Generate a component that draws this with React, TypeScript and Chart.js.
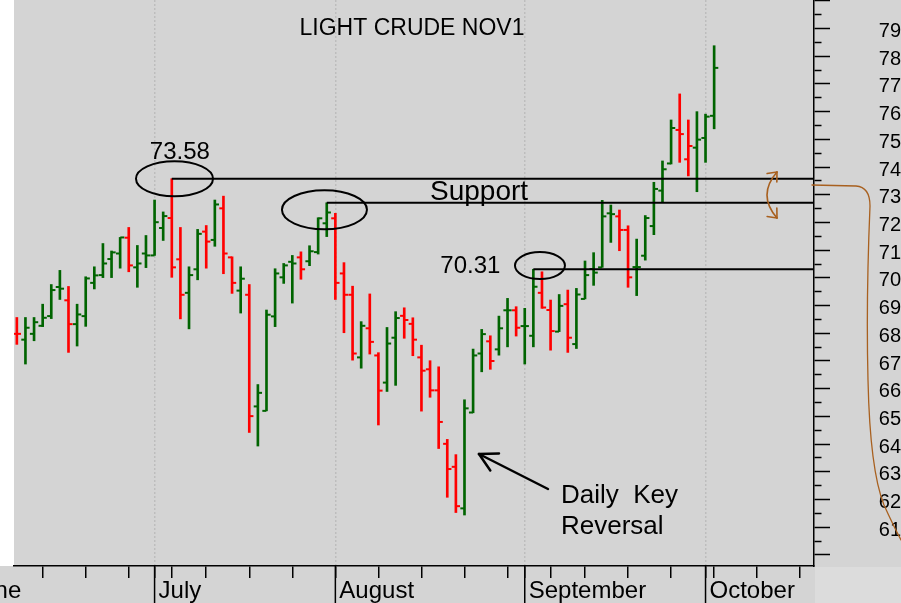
import { useEffect, useRef } from 'react';
import { Chart, registerables } from 'chart.js';

Chart.register(...registerables);

// Sessions before the first bar, only used to place the June month marker
const leadingSessions = ['2021-06-01', '2021-06-02', '2021-06-03', '2021-06-04', '2021-06-07', '2021-06-08'];

// Trading sessions drawn as bars
const sessions = [
  '2021-06-09', '2021-06-10', '2021-06-11', '2021-06-14', '2021-06-15', '2021-06-16', '2021-06-17', '2021-06-18',
  '2021-06-21', '2021-06-22', '2021-06-23', '2021-06-24', '2021-06-25', '2021-06-28', '2021-06-29', '2021-06-30',
  '2021-07-01', '2021-07-02', '2021-07-06', '2021-07-07', '2021-07-08', '2021-07-09',
  '2021-07-12', '2021-07-13', '2021-07-14', '2021-07-15', '2021-07-16',
  '2021-07-19', '2021-07-20', '2021-07-21', '2021-07-22', '2021-07-23',
  '2021-07-26', '2021-07-27', '2021-07-28', '2021-07-29', '2021-07-30',
  '2021-08-02', '2021-08-03', '2021-08-04', '2021-08-05', '2021-08-06',
  '2021-08-09', '2021-08-10', '2021-08-11', '2021-08-12', '2021-08-13',
  '2021-08-16', '2021-08-17', '2021-08-18', '2021-08-19', '2021-08-20',
  '2021-08-23', '2021-08-24', '2021-08-25', '2021-08-26', '2021-08-27',
  '2021-08-30', '2021-08-31',
  '2021-09-01', '2021-09-02', '2021-09-03', '2021-09-07', '2021-09-08', '2021-09-09', '2021-09-10',
  '2021-09-13', '2021-09-14', '2021-09-15', '2021-09-16', '2021-09-17',
  '2021-09-20', '2021-09-21', '2021-09-22', '2021-09-23', '2021-09-24',
  '2021-09-27', '2021-09-28', '2021-09-29', '2021-09-30',
  '2021-10-01', '2021-10-04',
];

// Upcoming sessions that extend the time axis to the right
const trailingSessions = [
  '2021-10-05', '2021-10-06', '2021-10-07', '2021-10-08',
  '2021-10-11', '2021-10-12', '2021-10-13', '2021-10-14', '2021-10-15',
  '2021-10-18', '2021-10-19', '2021-10-20',
];

const openPrices = [
  67.98, 67.77, 67.98, 68.27, 68.62, 69.67, 69.19, 68.33, 68.62, 69.82,
  70.10, 70.68, 70.88, 71.45, 70.38, 70.88, 70.81, 71.80, 72.16, 70.67,
  69.46, 70.31, 71.67, 71.37, 72.51, 70.74, 69.54, 69.39, 65.36, 65.20,
  68.61, 70.02, 70.58, 70.74, 70.60, 70.93, 71.97, 72.15, 70.16, 69.39,
  67.13, 68.18, 67.20, 66.22, 67.84, 68.63, 68.34, 67.13, 66.70, 65.94,
  64.01, 63.18, 61.68, 65.14, 67.27, 67.71, 67.42, 68.83, 68.83, 68.26,
  67.91, 69.46, 68.84, 68.06, 69.05, 67.61, 69.24, 70.32, 70.38, 72.33,
  72.22, 71.73, 70.39, 70.80, 71.87, 73.15, 74.13, 75.34, 74.28, 74.70,
  75.05, 75.85,
];
const highPrices = [
  68.57, 68.57, 68.57, 69.05, 69.76, 70.27, 69.69, 69.05, 70.04, 70.40,
  71.24, 70.97, 71.46, 71.82, 71.17, 71.53, 72.81, 72.38, 73.58, 71.82,
  70.40, 71.75, 71.89, 72.81, 72.95, 70.76, 70.40, 69.76, 66.15, 68.84,
  70.33, 70.52, 70.81, 70.94, 71.16, 72.17, 72.71, 72.33, 70.55, 69.70,
  68.42, 69.42, 67.30, 68.21, 68.78, 68.92, 68.56, 67.57, 67.01, 66.79,
  64.17, 63.62, 65.60, 67.43, 68.14, 67.91, 68.62, 69.26, 68.96, 68.90,
  70.31, 70.22, 69.20, 69.40, 69.56, 69.62, 70.61, 70.91, 72.80, 72.63,
  72.45, 71.88, 71.40, 72.25, 73.45, 74.22, 75.70, 76.64, 75.70, 76.00,
  75.91, 78.38,
];
const lowPrices = [
  67.60, 66.89, 67.73, 68.24, 68.53, 69.22, 67.31, 67.54, 68.25, 69.60,
  70.01, 70.01, 70.35, 70.22, 69.66, 70.37, 70.81, 71.35, 70.02, 68.52,
  68.16, 69.93, 70.35, 71.14, 70.15, 69.44, 68.73, 64.42, 63.93, 65.20,
  68.24, 69.80, 69.09, 69.95, 70.44, 70.86, 71.49, 69.22, 68.02, 67.03,
  66.74, 67.25, 64.69, 65.90, 66.12, 67.82, 67.19, 65.19, 65.69, 63.84,
  62.08, 61.53, 61.44, 65.13, 66.61, 66.70, 67.21, 67.51, 67.90, 66.89,
  67.51, 68.90, 67.39, 68.06, 67.31, 67.45, 69.24, 69.73, 70.38, 71.28,
  70.98, 69.66, 69.36, 70.64, 71.56, 72.75, 74.11, 74.17, 73.68, 73.11,
  74.17, 75.38,
];
const closePrices = [
  67.98, 68.20, 68.40, 68.56, 69.56, 69.61, 68.33, 68.68, 69.98, 70.09,
  70.52, 70.92, 71.46, 70.45, 70.52, 70.81, 72.01, 72.23, 70.38, 69.39,
  70.10, 71.59, 71.31, 72.65, 70.88, 69.82, 69.97, 65.01, 65.85, 68.67,
  70.16, 70.45, 70.52, 70.31, 70.96, 72.15, 72.36, 69.82, 69.39, 67.27,
  68.27, 67.69, 65.93, 67.63, 68.55, 68.48, 67.77, 66.65, 65.94, 64.80,
  63.10, 61.76, 65.29, 67.20, 67.97, 67.00, 68.18, 68.83, 68.20, 68.26,
  69.68, 68.93, 68.08, 68.99, 67.84, 69.40, 70.10, 70.19, 72.22, 72.30,
  71.73, 70.02, 70.39, 72.16, 73.21, 73.92, 75.41, 75.19, 74.76, 74.99,
  75.82, 77.58,
];
// Settlement of the session before the first bar
const priorClose = 68.3;

// Bars whose highs start the horizontal support lines
const supportFrom = [18, 36, 60];
// Bars whose highs are written as numbers on the chart
const labelledHighs = [18, 60];

const monthNames = ['June', 'July', 'August', 'September', 'October'];
const yTickValues = [
  60, 60.5, 61, 61.5, 62, 62.5, 63, 63.5, 64, 64.5, 65, 65.5, 66, 66.5, 67, 67.5, 68, 68.5, 69, 69.5,
  70, 70.5, 71, 71.5, 72, 72.5, 73, 73.5, 74, 74.5, 75, 75.5, 76, 76.5, 77, 77.5, 78, 78.5, 79, 79.5, 80,
];
const yLabelMin = 61;
const yLabelMax = 79;

const X_MIN = -0.33;
const X_MAX = 92.6;
const Y_MIN = 59.6;
const Y_MAX = 80.03;

const GREEN = '#006400';
const RED = '#ff0000';
const BROWN = '#a8601f';
const FONT = '"Liberation Sans", Arial, Helvetica, sans-serif';

// ---- axis layout from the session calendar ----
const axisSessions = [...leadingSessions, ...sessions, ...trailingSessions];
const base = leadingSessions.length;
const weekStarts: number[] = [];
const monthStarts: { index: number; label: string }[] = [];
axisSessions.forEach((s, k) => {
  const idx = k - base;
  const d = new Date(s + 'T00:00:00Z');
  const prev = k > 0 ? new Date(axisSessions[k - 1] + 'T00:00:00Z') : null;
  const gapDays = prev ? (d.getTime() - prev.getTime()) / 86400000 : 99;
  if (!prev || d.getUTCDay() <= prev.getUTCDay() || gapDays >= 7) weekStarts.push(idx);
  if (!prev || d.getUTCMonth() !== prev.getUTCMonth()) {
    monthStarts.push({ index: idx, label: monthNames[d.getUTCMonth() - 5] });
  }
});
const monthIdx = new Set(monthStarts.map((m) => m.index));
const xTickValues = Array.from(new Set([...weekStarts, ...monthStarts.map((m) => m.index)]))
  .filter((v) => v >= X_MIN && v <= X_MAX)
  .sort((a, b) => a - b);

// ---- bar colours: up/down against the previous settlement ----
const barColors = closePrices.map((c, i) => (c >= (i === 0 ? priorClose : closePrices[i - 1]) ? GREEN : RED));

const rangeData = sessions.map((_, i) => ({ x: i, y: [lowPrices[i], highPrices[i]] }));
const openData = sessions.map((_, i) => ({ x: i - 0.25, y: openPrices[i] }));
const closeData = sessions.map((_, i) => ({ x: i + 0.25, y: closePrices[i] }));

function strokeLine(ctx: CanvasRenderingContext2D, x1: number, y1: number, x2: number, y2: number) {
  ctx.beginPath();
  ctx.moveTo(x1, y1);
  ctx.lineTo(x2, y2);
  ctx.stroke();
}

function arrowHead(ctx: CanvasRenderingContext2D, tipX: number, tipY: number, angle: number, len: number, spread: number) {
  strokeLine(ctx, tipX, tipY, tipX + Math.cos(angle + spread) * len, tipY + Math.sin(angle + spread) * len);
  strokeLine(ctx, tipX, tipY, tipX + Math.cos(angle - spread) * len, tipY + Math.sin(angle - spread) * len);
}

const decorations = {
  id: 'decorations',
  beforeDraw(chart: any) {
    const { ctx, width, height, chartArea } = chart;
    ctx.save();
    ctx.fillStyle = '#d4d4d4';
    ctx.fillRect(0, 0, width, height);
    ctx.fillStyle = '#ffffff';
    ctx.fillRect(0, 0, chartArea.left, chartArea.bottom);
    ctx.fillStyle = '#dcdcdc';
    ctx.fillRect(chartArea.right + 1, chartArea.bottom + 1, width - chartArea.right, height - chartArea.bottom);
    ctx.restore();
  },
  afterDraw(chart: any) {
    const { ctx, height, chartArea } = chart;
    const xs = chart.scales.x;
    const ys = chart.scales.y;
    ctx.save();

    // month dividers and names under the time axis
    ctx.strokeStyle = '#000';
    ctx.lineWidth = 1.5;
    ctx.fillStyle = '#000';
    ctx.font = `24px ${FONT}`;
    ctx.textAlign = 'left';
    ctx.textBaseline = 'alphabetic';
    monthStarts.forEach((m) => {
      const px = xs.getPixelForValue(m.index);
      if (px >= chartArea.left - 1 && px <= chartArea.right) strokeLine(ctx, px, chartArea.bottom, px, height);
      ctx.fillText(m.label, px + 4, 598);
    });

    // title
    ctx.font = `23px ${FONT}`;
    ctx.textAlign = 'center';
    ctx.fillText('LIGHT CRUDE NOV1', 412, 35);

    // circled highs
    ctx.lineWidth = 2;
    const ellipses = [
      { at: 18, dx: 2.7, dy: 0, rx: 38.5, ry: 17.5 },
      { at: 36, dx: -2.3, dy: 7, rx: 42.5, ry: 19.5 },
      { at: 60, dx: 6.6, dy: -3.7, rx: 25, ry: 13.5 },
    ];
    ellipses.forEach((e) => {
      const cx = xs.getPixelForValue(e.at) + e.dx;
      const cy = ys.getPixelForValue(highPrices[e.at]) + e.dy;
      ctx.beginPath();
      ctx.ellipse(cx, cy, e.rx, e.ry, 0, 0, Math.PI * 2);
      ctx.stroke();
    });

    // price notes on the circled highs
    ctx.textAlign = 'left';
    ctx.font = `24px ${FONT}`;
    const noteOffsets = [
      { dx: -22, dy: -20 },
      { dx: -93, dy: 4 },
    ];
    labelledHighs.forEach((i, k) => {
      const px = xs.getPixelForValue(i);
      const py = ys.getPixelForValue(highPrices[i]);
      ctx.fillText(highPrices[i].toFixed(2), px + noteOffsets[k].dx, py + noteOffsets[k].dy);
    });

    ctx.font = `28px ${FONT}`;
    ctx.fillText('Support', 430, 200);

    ctx.font = `26px ${FONT}`;
    ctx.fillText('Daily  Key', 561, 503);
    ctx.fillText('Reversal', 561, 534);

    // arrow towards the reversal bar
    ctx.lineWidth = 2.5;
    ctx.lineCap = 'round';
    const tip = { x: 479, y: 454 };
    const tail = { x: 548, y: 489 };
    strokeLine(ctx, tail.x, tail.y, tip.x, tip.y);
    arrowHead(ctx, tip.x, tip.y, Math.atan2(tail.y - tip.y, tail.x - tip.x), 20, 0.5);

    // hand-drawn brown marks on the right
    ctx.strokeStyle = BROWN;
    ctx.lineWidth = 1.6;
    ctx.beginPath();
    ctx.moveTo(777, 172);
    ctx.quadraticCurveTo(757, 195, 777, 218);
    ctx.stroke();
    arrowHead(ctx, 777, 172, Math.atan2(195 - 172, 757 - 777), 10, 0.7);
    arrowHead(ctx, 777, 218, Math.atan2(195 - 218, 757 - 777), 10, 0.7);

    ctx.lineWidth = 1.3;
    ctx.beginPath();
    ctx.moveTo(812, 185);
    ctx.lineTo(856, 186);
    ctx.quadraticCurveTo(870, 187, 870, 206);
    ctx.quadraticCurveTo(866, 300, 868, 380);
    ctx.quadraticCurveTo(870, 470, 884, 505);
    ctx.quadraticCurveTo(893, 525, 901, 540);
    ctx.stroke();

    ctx.restore();
  },
};

export default function App() {
  const canvasRef = useRef<HTMLCanvasElement | null>(null);

  useEffect(() => {
    document.body.style.margin = '0';
    document.body.style.overflow = 'hidden';
    const canvas = canvasRef.current;
    if (!canvas) return;

    const chart = new Chart(canvas, {
      type: 'bar',
      data: {
        datasets: [
          ...supportFrom.map((i) => ({
            type: 'line' as const,
            data: [
              { x: i, y: highPrices[i] },
              { x: X_MAX, y: highPrices[i] },
            ],
            borderColor: '#000',
            borderWidth: 2,
            pointRadius: 0,
            fill: false,
          })),
          {
            type: 'scatter' as const,
            data: openData,
            pointStyle: 'line',
            pointRadius: 2,
            pointBorderWidth: 2,
            pointBorderColor: barColors,
            pointBackgroundColor: barColors,
          },
          {
            type: 'scatter' as const,
            data: closeData,
            pointStyle: 'line',
            pointRadius: 2,
            pointBorderWidth: 2,
            pointBorderColor: barColors,
            pointBackgroundColor: barColors,
          },
          {
            type: 'bar' as const,
            data: rangeData as any,
            backgroundColor: barColors,
            borderWidth: 0,
            barThickness: 2,
            grouped: false,
          },
        ],
      },
      options: {
        responsive: false,
        animation: false,
        devicePixelRatio: 1,
        events: [],
        layout: { padding: { left: 14, top: 0, right: 0, bottom: 0 }, autoPadding: false },
        plugins: {
          legend: { display: false },
          tooltip: { enabled: false },
          title: { display: false },
        },
        scales: {
          x: {
            type: 'linear',
            position: 'bottom',
            min: X_MIN,
            max: X_MAX,
            offset: false,
            afterBuildTicks: (scale: any) => {
              scale.ticks = xTickValues.map((v) => ({ value: v }));
            },
            afterFit: (scale: any) => {
              scale.height = 37;
              scale.paddingLeft = 0;
              scale.paddingRight = 0;
              scale.paddingTop = 0;
              scale.paddingBottom = 0;
            },
            ticks: { display: false },
            grid: {
              offset: false,
              drawOnChartArea: true,
              drawTicks: true,
              tickLength: 12,
              tickWidth: 1.5,
              tickColor: '#000',
              tickBorderDash: [],
              lineWidth: 1.5,
              color: (c: any) => (c.tick && monthIdx.has(c.tick.value) ? '#bdbdbd' : 'rgba(0,0,0,0)'),
            },
            border: { display: true, color: '#000', width: 1.5, dash: [2, 2] },
          },
          y: {
            type: 'linear',
            position: 'right',
            min: Y_MIN,
            max: Y_MAX,
            afterBuildTicks: (scale: any) => {
              scale.ticks = yTickValues.map((v) => ({ value: v }));
            },
            afterFit: (scale: any) => {
              scale.width = 87;
              scale.paddingLeft = 0;
              scale.paddingRight = 0;
              scale.paddingTop = 0;
              scale.paddingBottom = 0;
            },
            ticks: {
              autoSkip: false,
              color: '#000',
              padding: 4,
              crossAlign: 'far',
              labelOffset: 3,
              font: { family: FONT, size: 20 },
              callback: (v: any) => {
                const n = Number(v);
                return Number.isInteger(n) && n >= yLabelMin && n <= yLabelMax ? String(n) : '';
              },
            },
            grid: {
              drawOnChartArea: false,
              drawTicks: true,
              tickLength: 16,
              tickWidth: 1.5,
              tickColor: '#000',
              tickBorderDash: (c: any) => (c.tick && Number.isInteger(c.tick.value) ? [] : [7, 40]),
            },
            border: { display: true, color: '#000', width: 1.5 },
          },
        },
      },
      plugins: [decorations],
    } as any);

    return () => chart.destroy();
  }, []);

  return (
    <div style={{ width: 901, height: 603, overflow: 'hidden' }}>
      <canvas ref={canvasRef} width={901} height={603} style={{ display: 'block' }} />
    </div>
  );
}
